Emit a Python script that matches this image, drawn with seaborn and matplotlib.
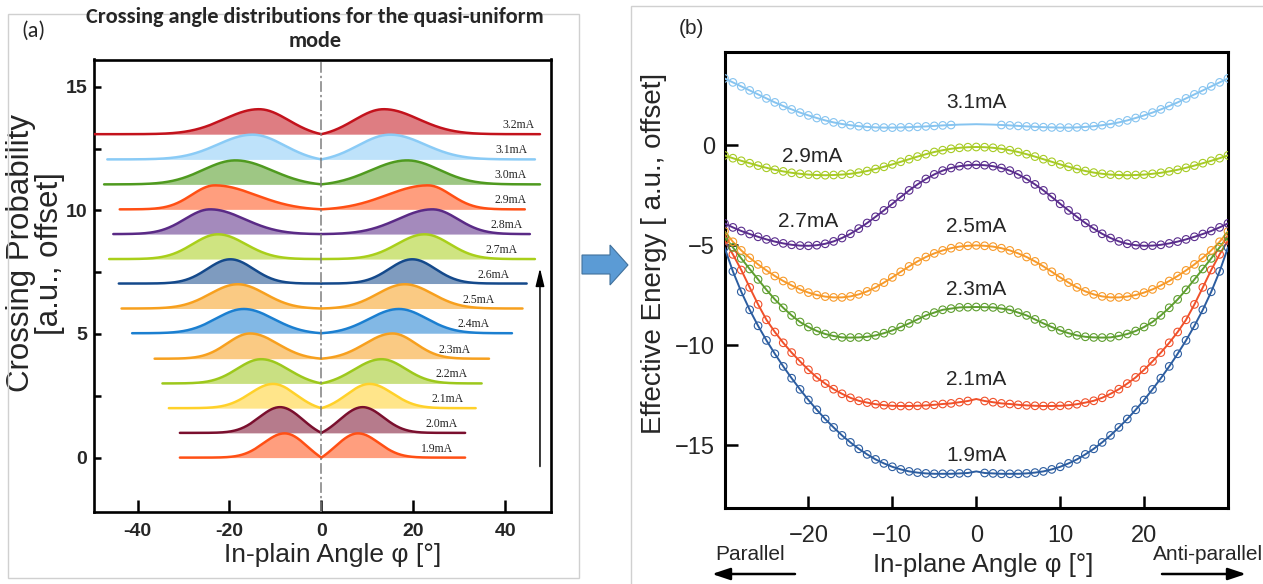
import numpy as np
import matplotlib
matplotlib.use("Agg")
import matplotlib.pyplot as plt
import seaborn as sns
from matplotlib import font_manager as fm
from matplotlib.patches import Polygon, Rectangle, FancyArrowPatch

# ---------------- panel (a): crossing-angle distributions ----------------
currents_a = ["1.9mA", "2.0mA", "2.1mA", "2.2mA", "2.3mA", "2.4mA", "2.5mA",
              "2.6mA", "2.7mA", "2.8mA", "2.9mA", "3.0mA", "3.1mA", "3.2mA"]
offset_a = [0.0, 1.0, 2.0, 3.0, 4.0, 5.03, 6.03, 7.04, 8.03, 9.04, 10.04, 11.05, 12.06, 13.08]
peak_angle_a = [8.0, 9.0, 10.5, 13.1, 15.5, 16.9, 18.2, 19.8, 22.5, 24.2, 23.2, 18.7, 15.0, 13.6]
peak_height_a = [0.98, 1.04, 0.98, 0.98, 1.02, 0.98, 0.98, 0.98, 1.0, 1.0, 0.97, 0.97, 1.0, 1.01]
spread_inner_a = [5.0, 5.0, 5.0, 6.0, 6.0, 6.5, 6.0, 5.0, 6.0, 7.5, 9.0, 8.0, 7.0, 6.5]
spread_outer_a = [4.5, 4.5, 5.0, 5.2, 5.0, 6.0, 6.0, 5.0, 5.5, 5.5, 5.0, 7.0, 7.5, 7.5]
left_end_a = [-30.8, -30.8, -33.2, -34.6, -36.3, -41.2, -43.5, -44.1, -46.2, -45.3, -43.9, -47.3, -46.6, -49.5]
right_end_a = [31.3, 31.3, 33.6, 34.9, 36.5, 41.5, 43.8, 44.7, 46.5, 45.4, 44.3, 47.6, 46.5, 47.6]
label_x_a = [28.7, 29.6, 30.9, 31.9, 32.4, 36.7, 37.8, 40.9, 42.8, 43.9, 44.8, 44.6, 44.8, 46.5]
colors_a = ["#FF4F14", "#7A0F2E", "#FFD12A", "#9DC81C", "#F7A01E", "#1B7FD0", "#F7A01E",
            "#14498B", "#A9CF1A", "#5A2A86", "#FF4F14", "#4F9A1F", "#8ACBF6", "#C3121C"]
xticks_a = [-40, -20, 0, 20, 40]
xticklabels_a = ["-40", "-20", "0", "20", "40"]
yticks_a = [0, 5, 10, 15]
yminor_a = [2.5, 7.5, 12.5]

# ---------------- panel (b): effective energy landscapes ----------------
angles_b = list(range(0, 31))  # degrees, curves are mirror-symmetric about 0
currents_b = ["1.9mA", "2.1mA", "2.3mA", "2.5mA", "2.7mA", "2.9mA", "3.1mA"]
energy_19 = [-16.3, -16.38, -16.4, -16.42, -16.42, -16.42, -16.4, -16.36, -16.3, -16.2,
             -16.07, -15.9, -15.7, -15.45, -15.17, -14.85, -14.5, -14.1, -13.68, -13.22,
             -12.73, -12.2, -11.64, -11.05, -10.42, -9.75, -9.02, -8.22, -7.32, -6.3, -5.1]
energy_21 = [-12.68, -12.78, -12.84, -12.9, -12.93, -12.97, -13.0, -13.02, -13.03, -13.03,
             -13.02, -12.99, -12.94, -12.86, -12.77, -12.62, -12.42, -12.19, -11.91, -11.6,
             -11.22, -10.8, -10.36, -9.87, -9.33, -8.72, -7.95, -7.1, -6.23, -5.45, -4.75]
energy_23 = [-8.08, -8.09, -8.1, -8.16, -8.22, -8.36, -8.5, -8.7, -8.9, -9.08,
             -9.25, -9.39, -9.5, -9.57, -9.6, -9.61, -9.6, -9.53, -9.43, -9.28,
             -9.08, -8.83, -8.5, -8.12, -7.7, -7.22, -6.7, -6.18, -5.65, -5.1, -4.55]
energy_25 = [-5.0, -5.02, -5.06, -5.14, -5.25, -5.4, -5.58, -5.8, -6.05, -6.32,
             -6.6, -6.86, -7.1, -7.3, -7.45, -7.55, -7.6, -7.6, -7.56, -7.48,
             -7.36, -7.2, -7.0, -6.78, -6.53, -6.25, -5.95, -5.62, -5.25, -4.82, -4.3]
energy_27 = [-0.97, -0.99, -1.04, -1.13, -1.26, -1.45, -1.68, -1.95, -2.25, -2.58,
             -2.92, -3.25, -3.57, -3.88, -4.16, -4.42, -4.63, -4.8, -4.92, -4.99,
             -5.02, -5.01, -4.97, -4.9, -4.81, -4.7, -4.57, -4.43, -4.28, -4.1, -3.9]
energy_29 = [-0.08, -0.09, -0.12, -0.17, -0.24, -0.33, -0.44, -0.56, -0.69, -0.82,
             -0.95, -1.07, -1.18, -1.28, -1.36, -1.42, -1.46, -1.48, -1.49, -1.48,
             -1.46, -1.42, -1.37, -1.3, -1.22, -1.12, -1.01, -0.89, -0.77, -0.64, -0.5]
energy_31 = [1.06, 1.05, 1.04, 1.02, 1.0, 0.975, 0.95, 0.93, 0.91, 0.9,
             0.89, 0.89, 0.9, 0.925, 0.96, 1.01, 1.07, 1.15, 1.25, 1.37,
             1.5, 1.64, 1.8, 1.97, 2.15, 2.35, 2.55, 2.75, 2.95, 3.15, 3.35]
energies_b = [energy_19, energy_21, energy_23, energy_25, energy_27, energy_29, energy_31]
marker_gap_b = [0.5, 0.5, -1, -1, -1, -1, 2.5]
colors_b = ["#2C5DA0", "#F0502A", "#5E9E2F", "#F79A2A", "#5A2D8D", "#A7CB24", "#86C4F0"]
label_x_b = [0.0, 0.0, 0.0, 0.0, -20.0, -19.5, 0.0]
label_y_b = [-15.5, -11.7, -7.2, -4.05, -3.8, -0.55, 2.15]
xticks_b = [-20, -10, 0, 10, 20]
yticks_b = [-15, -10, -5, 0]
yminor_b = [-17.5, -12.5, -7.5, -2.5, 2.5]

# ---------------- styling ----------------
sns.set_theme(style="white")
available = {f.name for f in fm.fontManager.ttflist}


def fams(*names):
    return [n for n in names if n in available] + ["DejaVu Sans"]


SANS = fams("Liberation Sans", "Arimo")
NARROW_OK = "Liberation Sans Narrow" in available
NARROW = fams("Liberation Sans Narrow", "Liberation Sans")
SERIF = fams("Liberation Serif", "DejaVu Serif")
TITLE = fams("Carlito", "Lato", "Liberation Sans")
plt.rcParams["font.family"] = SANS

W, H = 1263, 584
fig = plt.figure(figsize=(W / 100, H / 100), dpi=100)
fig.patch.set_facecolor("white")


def px_rect(l, t, r, b):
    return [l / W, 1 - b / H, (r - l) / W, (b - t) / H]


# panel frames and the linking arrow
fig.add_artist(Rectangle((8 / W, 1 - 578 / H), (579 - 8) / W, (578 - 14) / H,
                         transform=fig.transFigure, fill=False, ec="#D0D0D0", lw=1))
fig.add_artist(Rectangle((631 / W, -0.05), 0.6, 1 - 6 / H + 0.05,
                         transform=fig.transFigure, fill=False, ec="#D0D0D0", lw=1))
arrow_px = [(582, 255), (610, 255), (610, 245), (628, 265), (610, 285), (610, 274), (582, 274)]
fig.add_artist(Polygon([(x / W, 1 - y / H) for x, y in arrow_px], closed=True,
                       transform=fig.transFigure, fc="#5B9BD5", ec="#41719C", lw=0.8))

ax_a = fig.add_axes(px_rect(94, 59.5, 551, 512))
ax_b = fig.add_axes(px_rect(724.5, 52, 1228, 508))


def split_profile(r, mu, s_in, s_out, h):
    inner = np.exp(-(r - mu) ** 2 / (2 * s_in ** 2))
    g0 = np.exp(-mu ** 2 / (2 * s_in ** 2))
    inner = np.clip((inner - g0) / (1 - g0), 0, None)
    outer = np.exp(-(r - mu) ** 2 / (2 * s_out ** 2))
    return h * np.where(r < mu, inner, outer)


# ---- panel (a) ----
for i, cur in enumerate(currents_a):
    col = colors_a[i]
    base = offset_a[i]
    for side, end in ((-1, left_end_a[i]), (1, right_end_a[i])):
        r = np.linspace(0, abs(end), 400)
        y = base + split_profile(r, peak_angle_a[i], spread_inner_a[i],
                                 spread_outer_a[i], peak_height_a[i])
        x = side * r
        ax_a.fill_between(x, base, y, color=col, alpha=0.55, lw=0, zorder=2 + i * 0.01)
        sns.lineplot(x=x, y=y, ax=ax_a, color=col, lw=1.8, sort=False,
                     estimator=None, zorder=3 + i * 0.01)
    ax_a.text(label_x_a[i], base + 0.12, cur, ha="right", va="bottom",
              fontsize=8.5, family=SERIF, zorder=5)

ax_a.axvline(0, color="#7F7F7F", lw=1.1, ls=(0, (7, 2, 1.5, 2)), zorder=6)
ax_a.annotate("", xy=(47.6, 7.66), xytext=(47.6, -0.36),
              arrowprops=dict(arrowstyle="-|>,head_width=0.22,head_length=0.9",
                              color="black", lw=1.1, shrinkA=0, shrinkB=0))
ax_a.set_xlim(-49.5, 50)
ax_a.set_ylim(-2.2, 16.1)
ax_a.set_xticks(xticks_a)
ax_a.set_xticklabels(xticklabels_a, fontweight="bold", family=NARROW,
                     fontsize=17 if NARROW_OK else 14)
ax_a.set_yticks(yticks_a)
ax_a.set_yticks(yminor_a, minor=True)
ax_a.set_yticklabels([str(v) for v in yticks_a], fontweight="bold", family=NARROW,
                     fontsize=17 if NARROW_OK else 14)
ax_a.tick_params(axis="x", which="both", direction="in", length=9, width=1.8,
                 pad=8, color="black", top=False, bottom=True)
ax_a.tick_params(axis="y", which="both", direction="in", length=5, width=1.8,
                 pad=5, color="black", left=True, right=False)
for sp in ax_a.spines.values():
    sp.set_color("black")
    sp.set_linewidth(1.9)
ax_a.set_xlabel("In-plain Angle φ [°]", family=NARROW,
                fontsize=23 if NARROW_OK else 19, va="center")
ax_a.xaxis.set_label_coords(0.523, -0.095)
ax_a.set_ylabel("Crossing Probability\n[a.u., offset]", fontsize=22.5, va="center",
                ha="center", linespacing=0.95)
ax_a.yaxis.set_label_coords(-0.128, 0.572)

fig.text(315 / W, 1 - 29 / H, "Crossing angle distributions for the quasi-uniform\nmode",
         ha="center", va="center", fontsize=16, fontweight="bold", family=TITLE,
         linespacing=1.2)
fig.text(33 / W, 1 - 31 / H, "(a)", ha="center", va="center", fontsize=16, family=TITLE)

# ---- panel (b) ----
ang = np.array(angles_b, dtype=float)
phi = np.concatenate([-ang[::-1], ang[1:]])
for cur, vals, col, gap, lx, ly in zip(currents_b, energies_b, colors_b, marker_gap_b,
                                        label_x_b, label_y_b):
    v = np.asarray(vals, dtype=float)
    energy = np.concatenate([v[::-1], v[1:]])
    sns.lineplot(x=phi, y=energy, ax=ax_b, color=col, lw=1.4, sort=False,
                 estimator=None, zorder=3)
    keep = np.abs(phi) > gap
    sns.scatterplot(x=phi[keep], y=energy[keep], ax=ax_b, marker="o", s=30,
                    color=col, linewidth=0.8, zorder=4)
    pts = ax_b.collections[-1]
    pts.set_facecolor("none")
    pts.set_edgecolor(col)
    ax_b.text(lx, ly, cur, ha="center", va="center", fontsize=15, zorder=5)

ax_b.set_xlim(-30, 30)
ax_b.set_ylim(-18.13, 4.67)
ax_b.set_xticks(xticks_b)
ax_b.set_yticks(yticks_b)
ax_b.set_yticks(yminor_b, minor=True)
ax_b.tick_params(axis="both", which="both", direction="in", length=9, width=1.8,
                 color="black", labelsize=17)
ax_b.tick_params(axis="x", pad=12, top=False, bottom=True)
ax_b.tick_params(axis="y", pad=7, left=True, right=False)
for sp in ax_b.spines.values():
    sp.set_color("black")
    sp.set_linewidth(2.2)
ax_b.set_xlabel("In-plane Angle φ [°]", family=NARROW,
                fontsize=22 if NARROW_OK else 18.5, va="center")
ax_b.xaxis.set_label_coords(0.513, -0.124)
ax_b.set_ylabel("Effective Energy [ a.u., offset]", fontsize=20, va="center", ha="center")
ax_b.yaxis.set_label_coords(-0.14, 0.559)

fig.text(691 / W, 1 - 28 / H, "(b)", ha="center", va="center", fontsize=15)
fig.text(750 / W, 1 - 554 / H, "Parallel", ha="center", va="center",
         family=NARROW, fontsize=17 if NARROW_OK else 15)
fig.text(1208 / W, 1 - 554 / H, "Anti-parallel", ha="center", va="center",
         family=NARROW, fontsize=17 if NARROW_OK else 15)
arrow_kw = dict(arrowstyle="-|>,head_width=0.3,head_length=0.9", color="black",
                lw=1.8, shrinkA=0, shrinkB=0, mutation_scale=12)
fig.add_artist(FancyArrowPatch((795 / W, 1 - 574 / H), (712 / W, 1 - 574 / H),
                               transform=fig.transFigure, **arrow_kw))
fig.add_artist(FancyArrowPatch((1162 / W, 1 - 574 / H), (1246 / W, 1 - 574 / H),
                               transform=fig.transFigure, **arrow_kw))

fig.savefig("out.png", dpi=100)
